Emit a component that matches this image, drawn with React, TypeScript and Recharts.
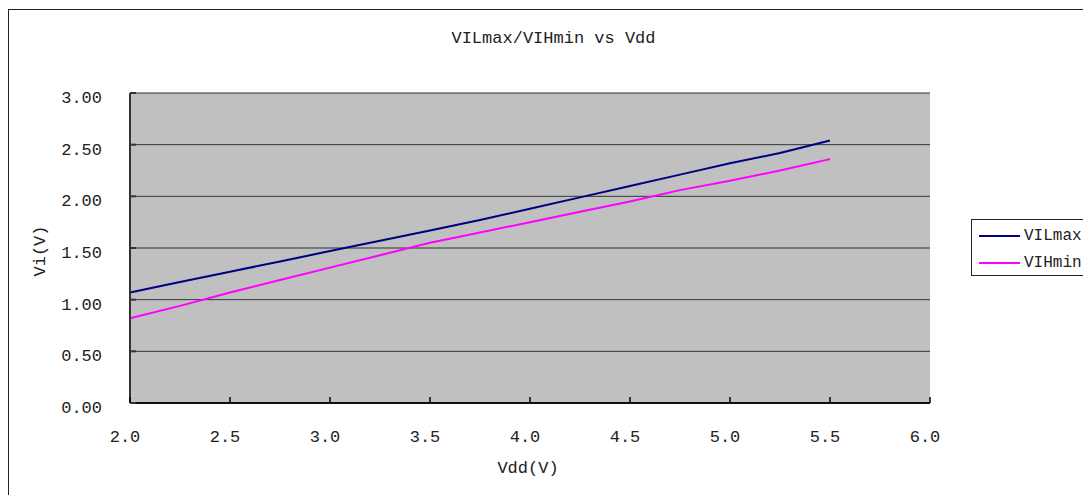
import { LineChart, Line, XAxis, YAxis, CartesianGrid, Legend } from 'recharts';

// Vdd sweep (V)
const vdd = [2.0, 2.25, 2.5, 2.75, 3.0, 3.25, 3.5, 3.75, 4.0, 4.25, 4.5, 4.75, 5.0, 5.25, 5.5];
// input low max threshold (V)
const vilMax = [1.07, 1.17, 1.27, 1.37, 1.47, 1.57, 1.67, 1.77, 1.88, 1.99, 2.1, 2.21, 2.32, 2.42, 2.54];
// input high min threshold (V)
const vihMin = [0.82, 0.94, 1.07, 1.19, 1.31, 1.43, 1.55, 1.65, 1.75, 1.85, 1.95, 2.06, 2.15, 2.25, 2.36];

const xTicks = [2.0, 2.5, 3.0, 3.5, 4.0, 4.5, 5.0, 5.5, 6.0];
const yTicks = [0, 0.5, 1.0, 1.5, 2.0, 2.5, 3.0];

const seriesNames = ['VILmax', 'VIHmin'];
const COLORS = ['#000080', '#ff00ff'];

const FONT = '"Liberation Mono", "DejaVu Sans Mono", monospace';
const MARGIN = 10;

const data = vdd.map((v, i) => ({ vdd: v, VILmax: vilMax[i], VIHmin: vihMin[i] }));

function XTick(props: any) {
    const { x, y, payload } = props;
    const axisY = y - MARGIN;
    return (
        <g>
            <line x1={x} y1={axisY} x2={x} y2={axisY - 6} stroke="#000" strokeWidth={1.5} />
            <text x={x - 5} y={axisY + 39} textAnchor="middle" fontFamily={FONT} fontSize={17} fill="#222">
                {payload.value.toFixed(1)}
            </text>
        </g>
    );
}

function YTick(props: any) {
    const { x, y, payload } = props;
    const axisX = x + MARGIN;
    return (
        <g>
            <line x1={axisX} y1={y} x2={axisX + 6} y2={y} stroke="#333" strokeWidth={2} />
            <text x={axisX - 28} y={y + 10} textAnchor="end" fontFamily={FONT} fontSize={17} fill="#222">
                {payload.value.toFixed(2)}
            </text>
        </g>
    );
}

function LegendBox() {
    return (
        <div style={{ border: '1px solid #222', width: 130, height: 55, background: '#fff', fontFamily: FONT, fontSize: 16, color: '#222' }}>
            {seriesNames.map((name, i) => (
                <div key={name} style={{ display: 'flex', alignItems: 'center', height: 27, marginTop: i === 0 ? 2 : 0 }}>
                    <div style={{ width: 41, height: 2, background: COLORS[i], marginLeft: 7, marginRight: 4 }} />
                    <span>{name}</span>
                </div>
            ))}
        </div>
    );
}

export default function App() {
    return (
        <div style={{ position: 'relative', width: 1083, height: 487, overflow: 'hidden', background: '#fff' }}>
            <div style={{ position: 'absolute', left: 0, top: 1, width: 1200, height: 600, borderTop: '1px solid #222', borderLeft: '1.5px solid #222' }} />
            <div style={{ position: 'absolute', left: 0, top: 21, width: 1091, textAlign: 'center', fontFamily: FONT, fontSize: 17, color: '#222' }}>
                VILmax/VIHmin vs Vdd
            </div>
            <div style={{ position: 'absolute', left: 0, top: 0 }}>
                <LineChart width={1083} height={487} data={data} margin={{ top: 85, right: 161, bottom: 62, left: 0 }}>
                    <CartesianGrid horizontal vertical={false} stroke="#333" fill="#c0c0c0" />
                    <XAxis
                        dataKey="vdd"
                        type="number"
                        domain={[2, 6]}
                        ticks={xTicks}
                        height={30}
                        axisLine={{ stroke: '#111', strokeWidth: 2 }}
                        tickLine={false}
                        tickSize={0}
                        tickMargin={MARGIN}
                        tick={(p: any) => <XTick {...p} />}
                        interval={0}
                        label={{
                            content: (lp: any) => {
                                const vb = lp.viewBox;
                                return (
                                    <text x={vb.x + vb.width / 2 - 2} y={vb.y + 70} textAnchor="middle" fontFamily={FONT} fontSize={17} fill="#222">
                                        Vdd(V)
                                    </text>
                                );
                            },
                        }}
                    />
                    <YAxis
                        type="number"
                        domain={[0, 3]}
                        ticks={yTicks}
                        width={122}
                        axisLine={{ stroke: '#333', strokeWidth: 2 }}
                        tickLine={false}
                        tickSize={0}
                        tickMargin={MARGIN}
                        tick={(p: any) => <YTick {...p} />}
                        interval={0}
                        label={{
                            content: (lp: any) => {
                                const vb = lp.viewBox;
                                const cx = vb.x + 32;
                                const cy = vb.y + vb.height / 2 + 3;
                                return (
                                    <text x={cx} y={cy} transform={`rotate(-90 ${cx} ${cy})`} textAnchor="middle" dominantBaseline="central" fontFamily={FONT} fontSize={17} fill="#222">
                                        Vi(V)
                                    </text>
                                );
                            },
                        }}
                    />
                    <Legend
                        layout="horizontal"
                        verticalAlign="middle"
                        align="center"
                        content={() => <LegendBox />}
                        wrapperStyle={{ position: 'absolute', left: 963, top: 211, width: 140 }}
                    />
                    <Line type="linear" dataKey="VILmax" stroke={COLORS[0]} strokeWidth={2} dot={false} isAnimationActive={false} />
                    <Line type="linear" dataKey="VIHmin" stroke={COLORS[1]} strokeWidth={2} dot={false} isAnimationActive={false} />
                </LineChart>
            </div>
        </div>
    );
}
